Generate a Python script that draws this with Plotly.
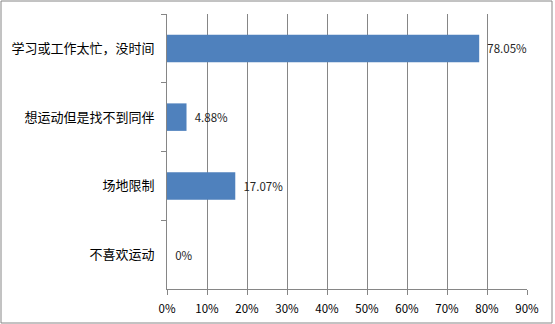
import plotly.graph_objects as go

categories = ["学习或工作太忙，没时间", "想运动但是找不到同伴", "场地限制", "不喜欢运动"]
values = [78.05, 4.88, 17.07, 0]
labels = ["78.05%", "4.88%", "17.07%", "0%"]
tick_vals = [0, 10, 20, 30, 40, 50, 60, 70, 80, 90]
tick_text = ["0%", "10%", "20%", "30%", "40%", "50%", "60%", "70%", "80%", "90%"]

FONT = "Noto Sans CJK SC, Liberation Sans, sans-serif"

fig = go.Figure(go.Bar(
    y=categories, x=values, orientation="h",
    marker=dict(color="#4F81BD", line=dict(width=0)),
    width=0.4,
    text=labels, texttemplate="  %{text}", textposition="outside",
    textfont=dict(size=11.5, color="#262626", family=FONT),
    cliponaxis=False,
))

fig.update_layout(
    width=555, height=324,
    margin=dict(l=167, r=28, t=14, b=35, autoexpand=False),
    paper_bgcolor="white", plot_bgcolor="white",
    showlegend=False,
    font=dict(family=FONT, color="black"),
    xaxis=dict(
        range=[0, 90], tickvals=tick_vals, ticktext=tick_text,
        showgrid=True, gridcolor="#868686", gridwidth=1,
        ticks="outside", ticklen=5, tickcolor="#868686",
        showline=True, linecolor="#868686", linewidth=1,
        tickfont=dict(size=11.5, color="black"), zeroline=False,
        ticklabelstandoff=4, automargin=False,
    ),
    yaxis=dict(
        categoryorder="array", categoryarray=categories, autorange="reversed",
        ticks="outside", ticklen=5, tickcolor="#868686", tickson="boundaries",
        showline=True, linecolor="#868686", linewidth=1,
        showgrid=False, tickfont=dict(size=13, color="black"),
        ticklabelstandoff=9, automargin=False,
    ),
    shapes=[dict(type="rect", xref="paper", yref="paper",
                 x0=(1 - 167) / 360, x1=(552 - 167) / 360,
                 y0=(289 - 323) / 275, y1=(289 - 1) / 275,
                 line=dict(color="#868686", width=1), fillcolor="rgba(0,0,0,0)")],
)

fig.write_html("out.html")
